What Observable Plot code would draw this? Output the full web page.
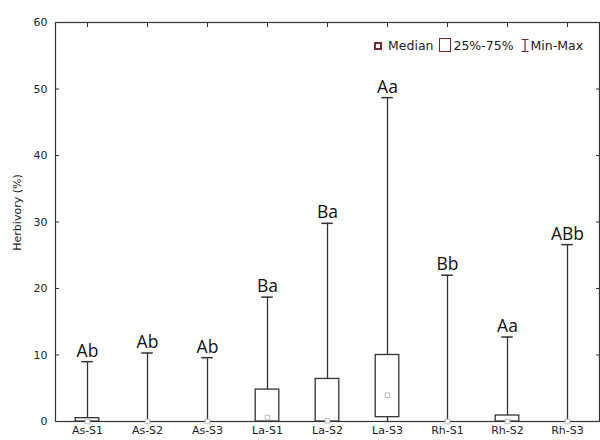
<!DOCTYPE html>
<html>
<head>
<meta charset="utf-8">
<script src="https://cdn.jsdelivr.net/npm/d3@7"></script>
<script src="https://cdn.jsdelivr.net/npm/@observablehq/plot@0.6"></script>
<style>
  html, body { margin: 0; padding: 0; background: #fff; }
  #wrap { position: relative; width: 600px; height: 440px; }
  #legend { position: absolute; left: 374px; top: 38px; font: 12.5px "DejaVu Sans", sans-serif; color: #222; display: flex; align-items: center; white-space: nowrap; }
  #legend span { display: inline-flex; align-items: center; }
</style>
</head>
<body>
<div id="wrap">
  <div id="chart"></div>
  <div id="legend">
    <span><svg width="8" height="8" style="margin-right:6px"><rect x="1" y="1" width="6" height="6" fill="#fff" stroke="#7a2a2a" stroke-width="2"/></svg>Median</span>
    <span style="margin-left:6px"><svg width="13" height="15" style="margin-right:1px"><rect x="0.5" y="0.5" width="11" height="13" fill="#fff" stroke="#7a2a2a" stroke-width="1"/></svg>25%-75%</span>
    <span style="margin-left:7px"><svg width="8" height="15" style="margin-right:2px"><path d="M0.5,1.5H7.5M4,1.5V13.5M0.5,13.5H7.5" fill="none" stroke="#7a2a2a" stroke-width="1.2"/></svg>Min-Max</span>
  </div>
</div>
<script>
const categories = ["As-S1","As-S2","As-S3","La-S1","La-S2","La-S3","Rh-S1","Rh-S2","Rh-S3"];
const minValues = [0, 0, 0, 0, 0, 0, 0, 0, 0];
const maxValues = [9.0, 10.3, 9.6, 18.7, 29.8, 48.7, 22.0, 12.7, 26.6];
const q1Values = [0, 0, 0, 0, 0, 0.65, 0, 0, 0];
const q3Values = [0.5, 0, 0, 4.8, 6.4, 10.0, 0, 0.9, 0];
const medianValues = [0, 0, 0, 0.6, 0.1, 3.95, 0, 0, 0];
const letters = ["Ab","Ab","Ab","Ba","Ba","Aa","Bb","Aa","ABb"];
const yTicks = [0, 10, 20, 30, 40, 50, 60];

const data = categories.map((c, i) => ({
  cat: c, min: minValues[i], max: maxValues[i], q1: q1Values[i], q3: q3Values[i],
  med: medianValues[i], letter: letters[i]
}));

const line = "#333";
const chart = Plot.plot({
  width: 600,
  height: 440,
  marginLeft: 55,
  marginRight: 1,
  marginTop: 22,
  marginBottom: 19,
  style: { fontFamily: "'DejaVu Sans', sans-serif", fontSize: "11px", color: "#222", background: "#fff" },
  x: { type: "band", domain: categories, padding: 0, label: null },
  y: { domain: [0, 60], label: null },
  marks: [
    Plot.frame({ stroke: line, strokeWidth: 1.2 }),
    Plot.axisY(yTicks, { anchor: "left", tickSize: -4, tickPadding: 12, fontSize: 11, stroke: line, fill: "#222", label: null }),
    Plot.axisY(yTicks, { anchor: "right", tickSize: -4, stroke: line, fill: "none", label: null }),
    Plot.axisX({ anchor: "top", tickSize: -4, stroke: line, fill: "none", label: null }),
    Plot.axisX({ anchor: "bottom", tickSize: 0, tickPadding: 5, fontSize: 11, fill: "#222", label: null }),
    Plot.text(["Herbivory (%)"], { frameAnchor: "left", textAnchor: "middle", dx: -38, dy: -9.5, rotate: -90, fontSize: 11, fill: "#222" }),
    Plot.ruleX(data, { x: "cat", y1: "min", y2: "max", stroke: line, strokeWidth: 1.3 }),
    Plot.tickY(data, { x: "cat", y: "max", insetLeft: 24.2, insetRight: 24.2, stroke: line, strokeWidth: 1.5 }),
    Plot.barY(data.filter(d => d.q3 > d.q1), { x: "cat", y1: "q1", y2: "q3", insetLeft: 18.2, insetRight: 18.2, fill: "#fff", stroke: line, strokeWidth: 1.3 }),
    Plot.dot(data, { x: "cat", y: "med", symbol: "square", r: 2.6, fill: "#fff", stroke: "#bbb", strokeWidth: 1 }),
    Plot.text(data, { x: "cat", y: "max", text: "letter", lineAnchor: "bottom", dy: -5, fontSize: 17.5, fontFamily: "'Open Sans', sans-serif", fill: "#111" })
  ]
});
document.getElementById("chart").appendChild(chart);
</script>
</body>
</html>
